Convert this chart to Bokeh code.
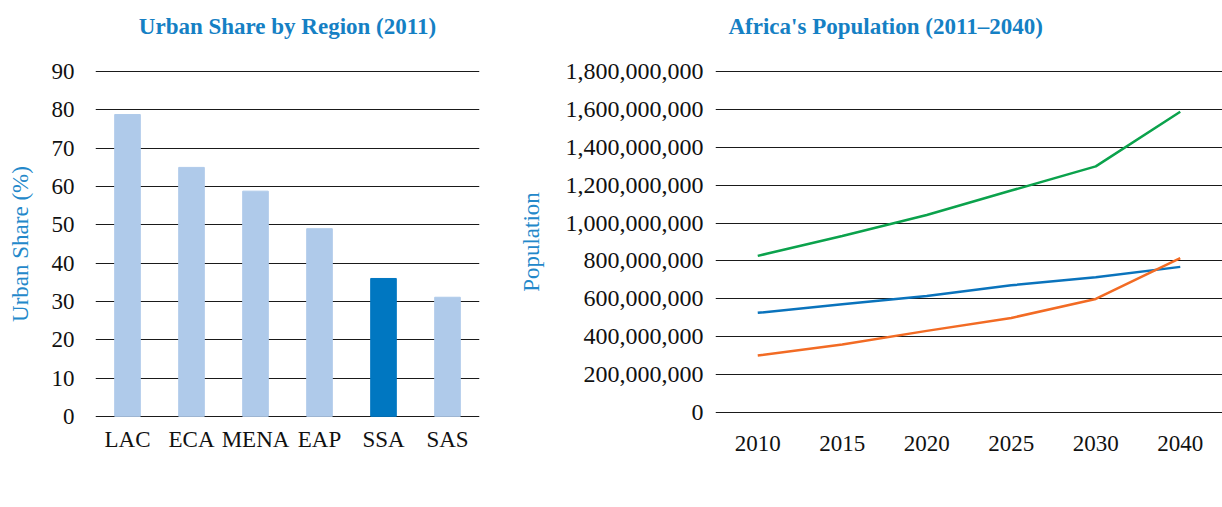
from bokeh.plotting import figure
from bokeh.layouts import gridplot
from bokeh.models import (Range1d, FactorRange, FixedTicker, NumeralTickFormatter,
                          Legend, LegendItem, ColumnDataSource, Title)
from bokeh.embed import file_html
from bokeh.resources import INLINE

# ---------------- data ----------------
regions = ["LAC", "ECA", "MENA", "EAP", "SSA", "SAS"]
urban_share = [78.8, 65.0, 58.8, 49.0, 36.0, 31.1]

years = ["2010", "2015", "2020", "2025", "2030", "2040"]
rural_pop = [527e6, 572e6, 616e6, 672e6, 715e6, 769e6]
urban_pop = [302e6, 360e6, 432e6, 500e6, 600e6, 815e6]
total_pop = [827e6, 932e6, 1042e6, 1171e6, 1298e6, 1586e6]

series_names = ["Rural population", "Urban population", "Total"]
titles = ["Urban Share by Region (2011)", "Africa's Population (2011\u20132040)"]

# ---------------- styles ----------------
FONT = "Liberation Serif"
TITLE_BLUE = "#1580C4"
LABEL_BLUE = "#2388CA"
LIGHT_BAR = "#AFCAEA"
DARK_BAR = "#0077C1"
C_RURAL = "#0A73BC"
C_URBAN = "#F26B24"
C_TOTAL = "#0BA24C"
GRID = "#1a1a1a"

def style_axes(p, ytick_px):
    for ax in (p.xaxis[0], p.yaxis[0]):
        ax.axis_line_color = None
        ax.major_tick_line_color = None
        ax.minor_tick_line_color = None
        ax.major_label_text_font = FONT
        ax.major_label_text_font_size = "23px"
        ax.major_label_text_color = "#111111"
        ax.axis_label_text_font = FONT
        ax.axis_label_text_font_size = "23px"
        ax.axis_label_text_font_style = "normal"
        ax.axis_label_text_color = LABEL_BLUE
    p.yaxis.major_label_text_font_size = ytick_px
    p.xgrid.grid_line_color = None
    p.ygrid.grid_line_color = GRID
    p.ygrid.grid_line_width = 1
    p.outline_line_color = None

def add_title(p, text, align, offset):
    # a blank spacer title sits next to the frame, pushing the real title upward
    p.add_layout(Title(text=" ", text_font=FONT, text_font_size="14px"), "above")
    p.add_layout(Title(text=text, text_font=FONT, text_font_size="23px",
                       text_font_style="bold", text_color=TITLE_BLUE,
                       align=align, offset=offset), "above")

# ---------------- left: bar chart ----------------
bar_colors = [DARK_BAR if r == "SSA" else LIGHT_BAR for r in regions]
src_bar = ColumnDataSource(dict(region=regions, share=urban_share, color=bar_colors))

p1 = figure(frame_width=384, frame_height=347, x_range=FactorRange(*regions),
            y_range=Range1d(-0.3, 90.3), output_backend="svg", toolbar_location=None,
            title=None,
            min_border_left=95, min_border_right=29, min_border_top=70, min_border_bottom=90)
p1.vbar(x="region", top="share", width=0.4, color="color", source=src_bar)
p1.yaxis.ticker = FixedTicker(ticks=list(range(0, 91, 10)))
p1.yaxis.axis_label = "Urban Share (%)"
style_axes(p1, "23px")
add_title(p1, titles[0], "center", 0)
p1.yaxis.major_label_standoff = 15
p1.yaxis.axis_label_standoff = 16
p1.xaxis.major_label_standoff = 3
p1.x_range.range_padding = 0

# ---------------- right: line chart ----------------
p2 = figure(frame_width=507, frame_height=343, x_range=FactorRange(*years),
            y_range=Range1d(-3e6, 1.803e9), output_backend="svg", toolbar_location=None,
            title=None,
            min_border_left=207, min_border_right=0, min_border_top=70, min_border_bottom=94)
r_rural = p2.line(years, rural_pop, line_color=C_RURAL, line_width=2.5)
r_urban = p2.line(years, urban_pop, line_color=C_URBAN, line_width=2.5)
r_total = p2.line(years, total_pop, line_color=C_TOTAL, line_width=2.5)
p2.yaxis.ticker = FixedTicker(ticks=[i * 200e6 for i in range(10)])
p2.yaxis.formatter = NumeralTickFormatter(format="0,0")
p2.yaxis.axis_label = "Population"
style_axes(p2, "24px")
add_title(p2, titles[1], "left", 13)
p2.yaxis.major_label_standoff = 6
p2.yaxis.axis_label_standoff = 19
p2.xaxis.major_label_standoff = 16
p2.x_range.range_padding = 0

legend = Legend(items=[LegendItem(label=n, renderers=[r])
                       for n, r in zip(series_names, [r_rural, r_urban, r_total])],
                orientation="horizontal", location="left")
legend.label_text_font = FONT
legend.label_text_font_size = "20px"
legend.label_text_color = "#111111"
legend.glyph_width = 40
legend.glyph_height = 20
legend.label_standoff = 8
legend.spacing = 18
legend.padding = 0
legend.margin = 10
legend.border_line_color = None
legend.background_fill_alpha = 0
p2.add_layout(legend, "below")

layout = gridplot([[p1, p2]], toolbar_location=None)
open("out.html", "w").write(file_html(layout, INLINE))
